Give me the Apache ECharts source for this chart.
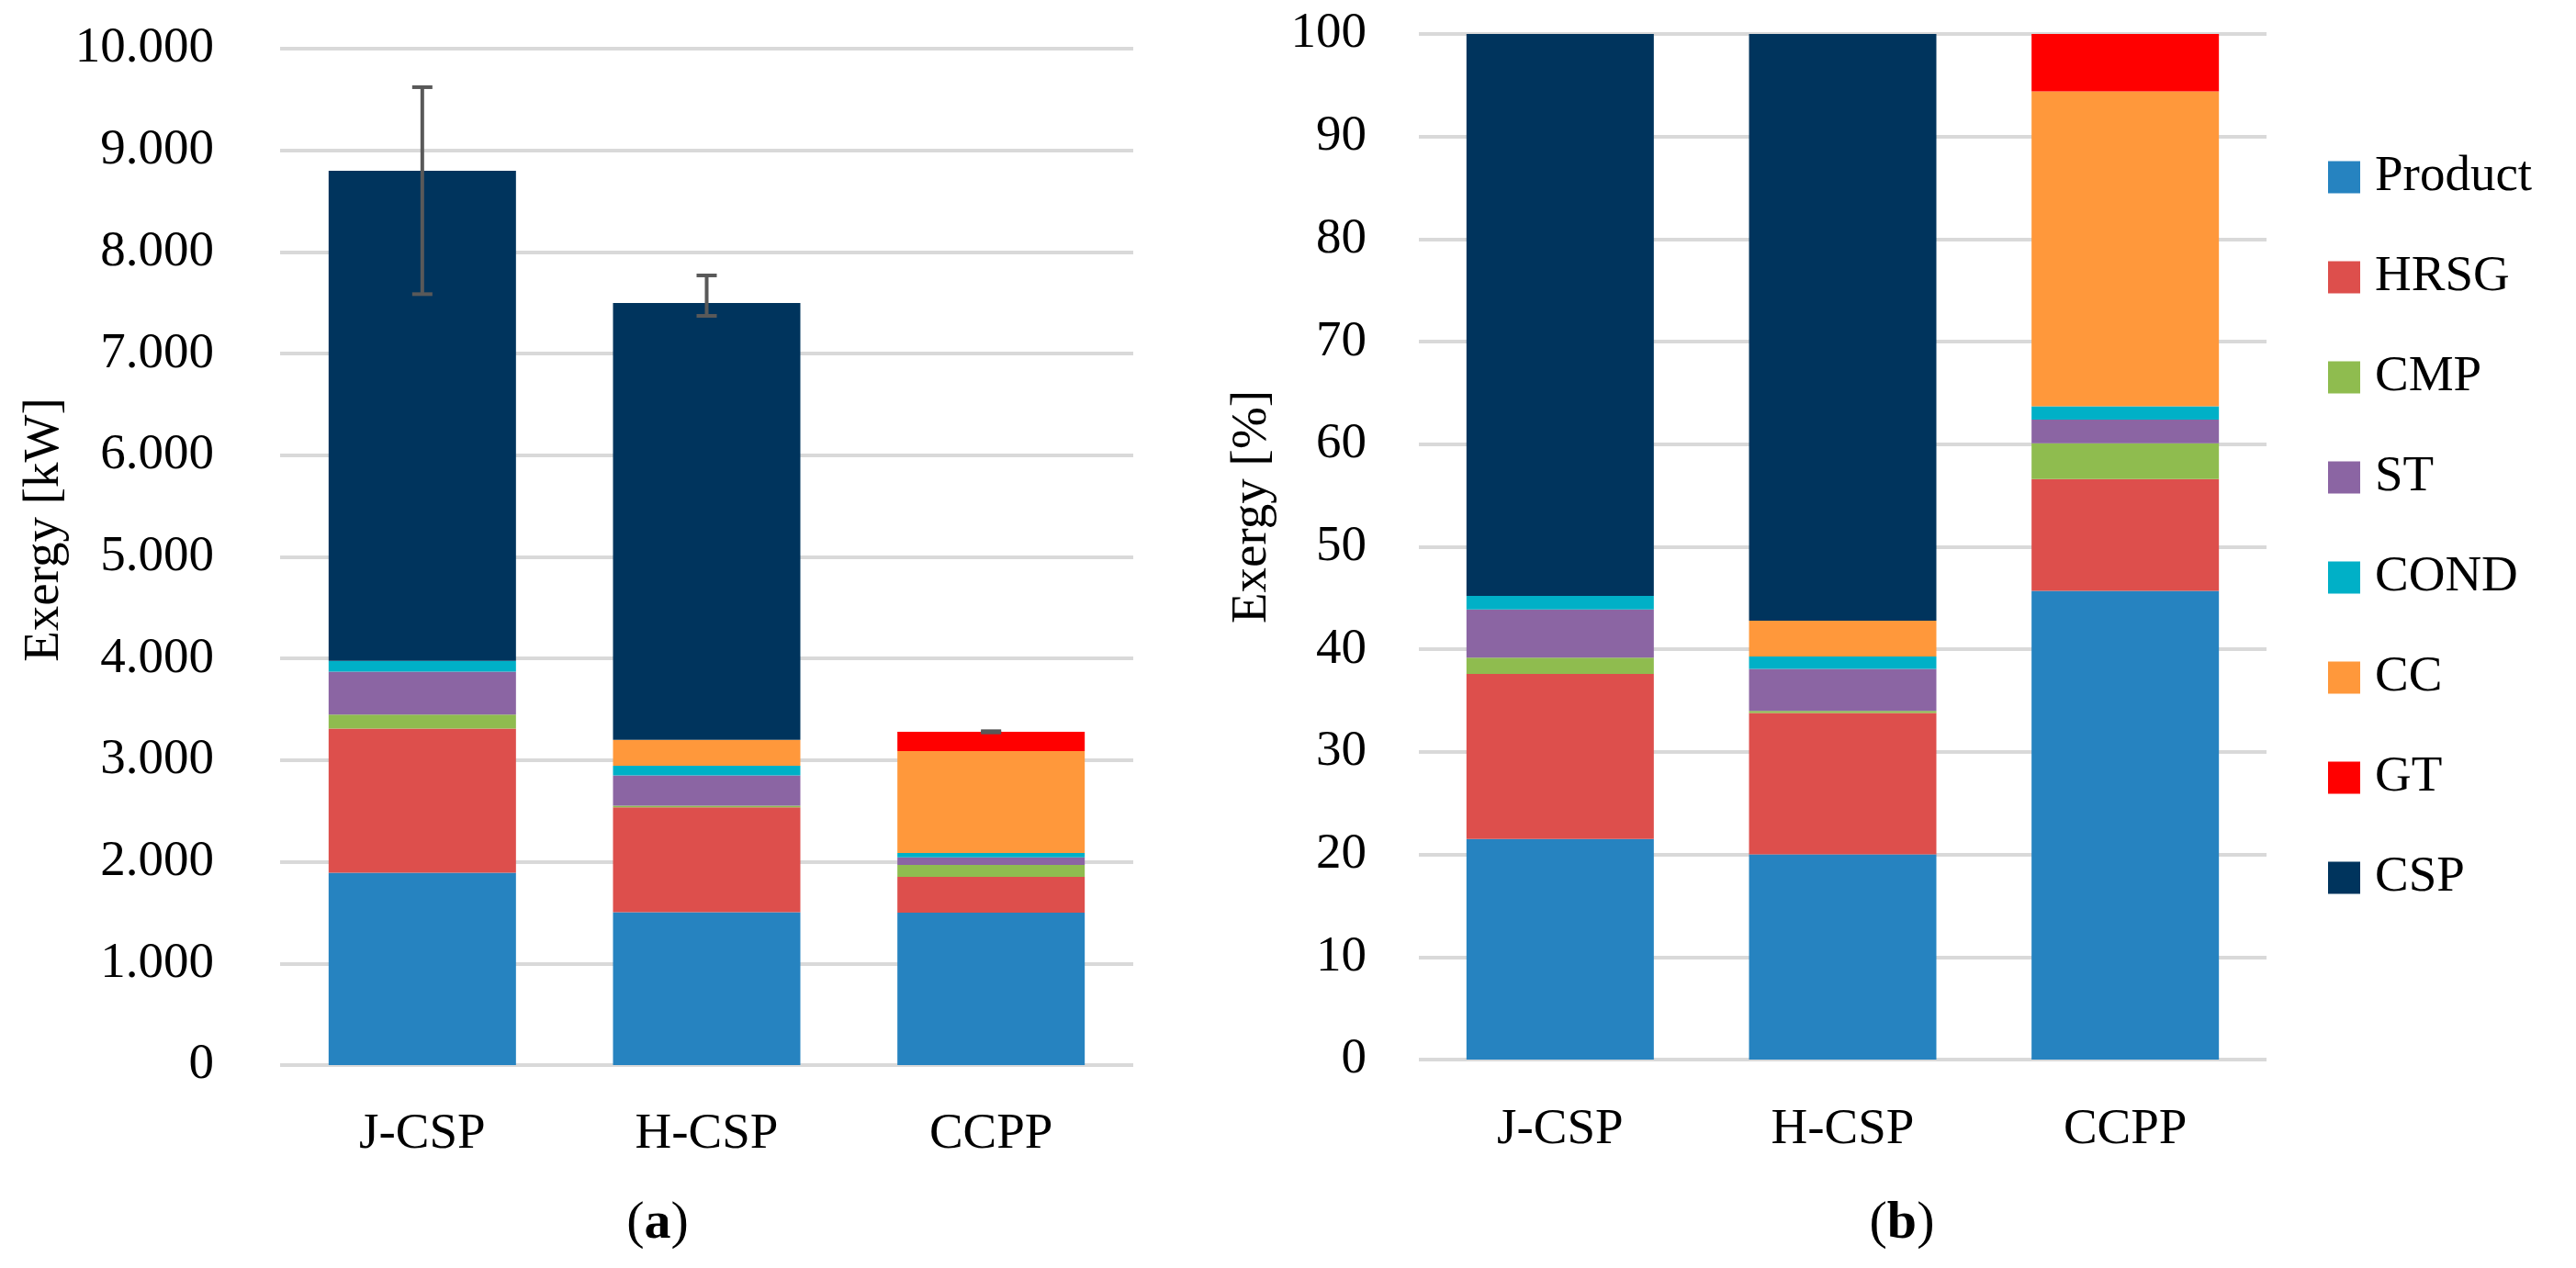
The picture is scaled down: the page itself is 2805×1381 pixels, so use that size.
<!DOCTYPE html>
<html>
<head>
<meta charset="utf-8">
<script src="https://cdn.jsdelivr.net/npm/echarts@6/dist/echarts.min.js"></script>
<style>
  html, body { margin: 0; padding: 0; background: #ffffff; }
  #chart { width: 2805px; height: 1381px; }
</style>
</head>
<body>
<div id="chart"></div>
<script>
var categories = ['J-CSP', 'H-CSP', 'CCPP'];
var seriesNames = ['Product', 'HRSG', 'CMP', 'ST', 'COND', 'CC', 'GT', 'CSP'];
var colors = ['#2683c0', '#dd4f4c', '#8fbc4f', '#8b65a3', '#00b0c7', '#ff983b', '#ff0000', '#00345d'];

// (a) exergy in kW
var kwProduct = [1892, 1503, 1500];
var kwHRSG = [1419, 1034, 352];
var kwCMP = [138, 15, 117];
var kwST = [421, 297, 75];
var kwCOND = [106, 97, 43];
var kwCC = [0, 255, 1002];
var kwGT = [0, 0, 190];
var kwCSP = [4822, 4297, 0];
var errHigh = [9621, 7769, 3285];
var errLow = [7585, 7371, 3273];

// (b) exergy in %
var pctProduct = [21.5, 20.0, 45.7];
var pctHRSG = [16.1, 13.8, 10.9];
var pctCMP = [1.6, 0.2, 3.5];
var pctST = [4.7, 4.1, 2.3];
var pctCOND = [1.3, 1.2, 1.3];
var pctCC = [0, 3.5, 30.7];
var pctGT = [0, 0, 5.6];
var pctCSP = [54.8, 57.2, 0];

var kwTicks = ['0', '1.000', '2.000', '3.000', '4.000', '5.000', '6.000', '7.000', '8.000', '9.000', '10.000'];

var kwData = [kwProduct, kwHRSG, kwCMP, kwST, kwCOND, kwCC, kwGT, kwCSP];
var pctData = [pctProduct, pctHRSG, pctCMP, pctST, pctCOND, pctCC, pctGT, pctCSP];

var font = 'Liberation Serif';
var fs = 55;

var chart = echarts.init(document.getElementById('chart'));

var series = [];
seriesNames.forEach(function (name, i) {
    series.push({
        name: name, type: 'bar', stack: 'kw',
        xAxisIndex: 0, yAxisIndex: 0,
        barWidth: 204,
        itemStyle: {color: colors[i]},
        data: kwData[i]
    });
});
seriesNames.forEach(function (name, i) {
    series.push({
        name: name, type: 'bar', stack: 'pct',
        xAxisIndex: 1, yAxisIndex: 1,
        barWidth: 204,
        itemStyle: {color: colors[i]},
        data: pctData[i]
    });
});

// error bars on (a)
series.push({
    type: 'custom',
    xAxisIndex: 0, yAxisIndex: 0,
    z: 10,
    data: categories.map(function (c, i) { return [i, errLow[i], errHigh[i]]; }),
    renderItem: function (params, api) {
        var lo = api.coord([api.value(0), api.value(1)]);
        var hi = api.coord([api.value(0), api.value(2)]);
        var w = 11;
        var st = {stroke: '#595959', lineWidth: 4};
        return {
            type: 'group',
            children: [
                {type: 'line', shape: {x1: hi[0], y1: hi[1], x2: lo[0], y2: lo[1]}, style: st},
                {type: 'line', shape: {x1: hi[0] - w, y1: hi[1], x2: hi[0] + w, y2: hi[1]}, style: st},
                {type: 'line', shape: {x1: lo[0] - w, y1: lo[1], x2: lo[0] + w, y2: lo[1]}, style: st}
            ]
        };
    }
});

var axisText = {color: '#000', fontFamily: font, fontSize: fs};

chart.setOption({
    backgroundColor: '#ffffff',
    animation: false,
    textStyle: {fontFamily: font},
    grid: [
        {left: 305, top: 53, width: 929, height: 1107},
        {left: 1545, top: 37, width: 923, height: 1117}
    ],
    legend: {
        orient: 'vertical',
        left: 2530,
        top: 160,
        itemWidth: 35,
        itemHeight: 35,
        itemGap: 53,
        icon: 'rect',
        data: seriesNames,
        textStyle: {color: '#000', fontFamily: font, fontSize: fs, lineHeight: 56, padding: [0, 0, 0, 11]}
    },
    xAxis: [
        {
            type: 'category', gridIndex: 0, data: categories,
            axisLine: {show: false}, axisTick: {show: false},
            axisLabel: Object.assign({margin: 48}, axisText)
        },
        {
            type: 'category', gridIndex: 1, data: categories,
            axisLine: {show: false}, axisTick: {show: false},
            axisLabel: Object.assign({margin: 49}, axisText)
        }
    ],
    yAxis: [
        {
            type: 'value', gridIndex: 0, min: 0, max: 10000, interval: 1000,
            axisLine: {show: false}, axisTick: {show: false},
            splitLine: {lineStyle: {color: '#d9d9d9', width: 4}},
            axisLabel: Object.assign({
                margin: 72,
                formatter: function (v) { return kwTicks[Math.round(v / 1000)]; }
            }, axisText)
        },
        {
            type: 'value', gridIndex: 1, min: 0, max: 100, interval: 10,
            axisLine: {show: false}, axisTick: {show: false},
            splitLine: {lineStyle: {color: '#d9d9d9', width: 4}},
            axisLabel: Object.assign({margin: 57}, axisText)
        }
    ],
    graphic: [
        {
            type: 'text', x: 49, y: 577, rotation: Math.PI / 2,
            style: {text: 'Exergy [kW]', fill: '#000', font: fs + 'px "' + font + '"', align: 'center', verticalAlign: 'middle'}
        },
        {
            type: 'text', x: 1364, y: 552, rotation: Math.PI / 2,
            style: {text: 'Exergy [%]', fill: '#000', font: fs + 'px "' + font + '"', align: 'center', verticalAlign: 'middle'}
        },
        {
            type: 'text', x: 716, y: 1333,
            style: {
                text: '({b|a})', fill: '#000', font: '58px "' + font + '"', align: 'center', verticalAlign: 'middle',
                rich: {b: {fontWeight: 'bold', fontSize: 58, fontFamily: font}}
            }
        },
        {
            type: 'text', x: 2071, y: 1333,
            style: {
                text: '({b|b})', fill: '#000', font: '58px "' + font + '"', align: 'center', verticalAlign: 'middle',
                rich: {b: {fontWeight: 'bold', fontSize: 58, fontFamily: font}}
            }
        }
    ],
    series: series
});
</script>
</body>
</html>
